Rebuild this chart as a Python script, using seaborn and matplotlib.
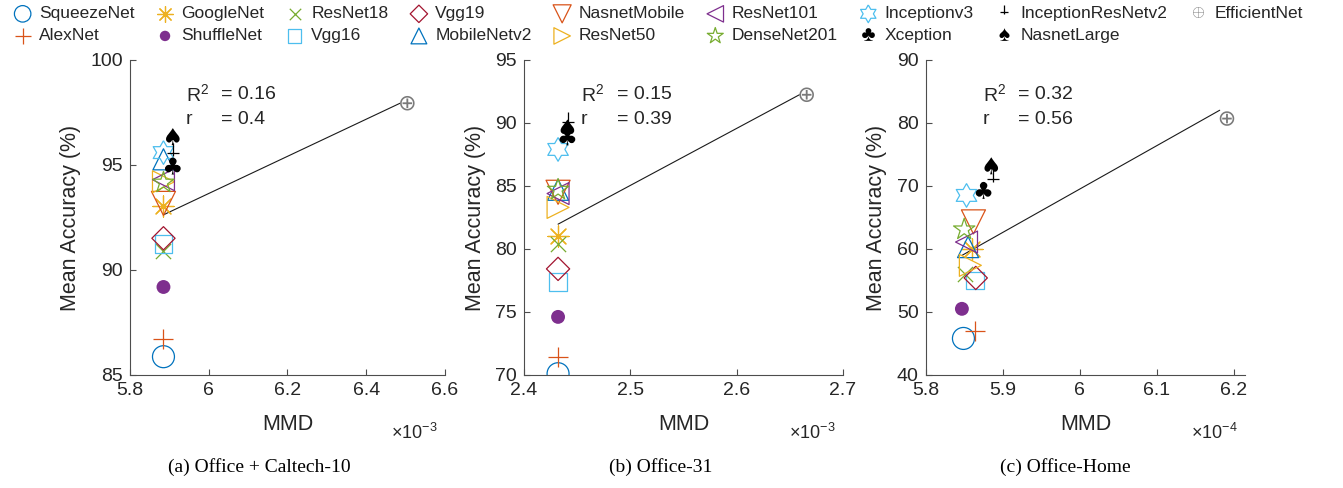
import numpy as np
import pandas as pd
import matplotlib
matplotlib.use('Agg')
import matplotlib.pyplot as plt
from matplotlib.path import Path
from matplotlib.markers import MarkerStyle
from matplotlib.transforms import Affine2D
from matplotlib.lines import Line2D
import seaborn as sns

# values (MMD in units of the axis multiplier)
models = ["SqueezeNet", "AlexNet", "GoogleNet", "ShuffleNet", "ResNet18", "Vgg16",
          "Vgg19", "MobileNetv2", "NasnetMobile", "ResNet50", "ResNet101",
          "DenseNet201", "Inceptionv3", "Xception", "InceptionResNetv2",
          "NasnetLarge", "EfficientNet"]

mmd_caltech = [5.885, 5.885, 5.885, 5.885, 5.885, 5.885, 5.885, 5.885, 5.885,
               5.885, 5.885, 5.885, 5.885, 5.885, 5.885, 5.885, 6.486]
acc_caltech = [85.87, 86.70, 93.07, 89.19, 90.88, 91.24, 91.51, 95.27, 93.17,
               94.20, 94.30, 94.16, 95.59, 94.95, 95.56, 96.35, 97.94]

mmd_office31 = [2.432, 2.432, 2.432, 2.432, 2.432, 2.432, 2.432, 2.432, 2.432,
                2.432, 2.432, 2.432, 2.432, 2.432, 2.432, 2.432, 2.659]
acc_office31 = [70.10, 71.45, 81.05, 74.61, 80.40, 77.37, 78.42, 84.70, 84.50,
                83.30, 84.40, 84.70, 87.90, 88.90, 90.10, 89.60, 92.24]

mmd_home = [5.849, 5.864, 5.860, 5.847, 5.851, 5.864, 5.865, 5.855, 5.862,
            5.858, 5.853, 5.850, 5.853, 5.863, 5.875, 5.873, 6.182]
acc_home = [45.8, 47.0, 60.0, 50.5, 56.0, 55.0, 55.4, 60.3, 64.3,
            57.4, 61.1, 63.1, 68.5, 69.3, 71.1, 73.2, 80.7]

r2_vals = ["0.16", "0.15", "0.32"]
r_vals = ["0.4", "0.39", "0.56"]
captions = ["(a) Office + Caltech-10", "(b) Office-31", "(c) Office-Home"]
exponents = ["-3", "-3", "-4"]

panels = [
    (mmd_caltech, acc_caltech, (5.8, 6.6), [5.8, 6.0, 6.2, 6.4, 6.6], (85, 100), [85, 90, 95, 100]),
    (mmd_office31, acc_office31, (2.4, 2.7), [2.4, 2.5, 2.6, 2.7], (70, 95), [70, 75, 80, 85, 90, 95]),
    (mmd_home, acc_home, (5.8, 6.215), [5.8, 5.9, 6.0, 6.1, 6.2], (40, 90), [40, 50, 60, 70, 80, 90]),
]

# MATLAB default colour order
blue, orange, yellow = '#0072BD', '#D95319', '#EDB120'
purple, green, cyan, red = '#7E2F8E', '#77AC30', '#4DBEEE', '#A2142F'

# custom marker shapes
a_out = np.deg2rad(90 + 60 * np.arange(6))
a_in = a_out + np.deg2rad(30)
hexagram = []
for ao, ai in zip(a_out, a_in):
    hexagram.append((np.cos(ao), np.sin(ao)))
    hexagram.append((np.cos(ai) / np.sqrt(3), np.sin(ai) / np.sqrt(3)))
hexagram.append(hexagram[0])
perp = Path([(0, 1.0), (0, -0.3), (-0.6, 0), (0.6, 0)],
            [Path.MOVETO, Path.LINETO, Path.MOVETO, Path.LINETO])

# the symbol markers sit to the right of their point, like left-aligned text labels
shift = Affine2D().translate(0.55, 0)
club = MarkerStyle(r'$\clubsuit$', transform=shift)
spade = MarkerStyle(r'$\spadesuit$', transform=shift)
oplus = MarkerStyle(r'$\oplus$', transform=Affine2D().translate(0.5, 0))
perp_m = MarkerStyle(perp, transform=Affine2D().translate(0.5, 0))

# marker, colour, size, kind
mstyle = {
    "SqueezeNet": ('o', blue, 250, 'hollow'),
    "AlexNet": ('+', orange, 210, 'line'),
    "GoogleNet": ((8, 2, 0), yellow, 230, 'line'),
    "ShuffleNet": ('o', purple, 100, 'solid'),
    "ResNet18": ('x', green, 120, 'line'),
    "Vgg16": ('s', cyan, 160, 'hollow'),
    "Vgg19": ('D', red, 140, 'hollow'),
    "MobileNetv2": ('^', blue, 230, 'hollow'),
    "NasnetMobile": ('v', orange, 300, 'hollow'),
    "ResNet50": ('>', yellow, 250, 'hollow'),
    "ResNet101": ('<', purple, 250, 'hollow'),
    "DenseNet201": ('*', green, 260, 'hollow'),
    "Inceptionv3": (hexagram, cyan, 290, 'hollow'),
    "Xception": (club, 'k', 150, 'solid'),
    "InceptionResNetv2": (perp_m, 'k', 200, 'hollow'),
    "NasnetLarge": (spade, 'k', 150, 'solid'),
    "EfficientNet": (oplus, '#7a7a7a', 110, 'solid'),
}
# unshifted versions for the legend
legend_plain = {
    "Xception": r'$\clubsuit$',
    "InceptionResNetv2": perp,
    "NasnetLarge": r'$\spadesuit$',
    "EfficientNet": r'$\oplus$',
}

sns.set_style("ticks")
plt.rcParams['font.family'] = ['Liberation Sans', 'DejaVu Sans']
plt.rcParams['mathtext.fontset'] = 'custom'
plt.rcParams['mathtext.rm'] = 'Liberation Sans'
plt.rcParams['text.color'] = '#262626'
plt.rcParams['axes.labelcolor'] = '#262626'
plt.rcParams['xtick.color'] = '#4d4d4d'
plt.rcParams['ytick.color'] = '#4d4d4d'
plt.rcParams['xtick.labelcolor'] = '#262626'
plt.rcParams['ytick.labelcolor'] = '#262626'

fig = plt.figure(figsize=(13.43, 4.88), dpi=100)
rects = [[0.0968, 0.2316, 0.2345, 0.6455],
         [0.3902, 0.2316, 0.2375, 0.6455],
         [0.6893, 0.2316, 0.2378, 0.6455]]
cap_x = [0.193, 0.492, 0.793]

for i, (mmd, acc, xlim, xt, ylim, yt) in enumerate(panels):
    ax = fig.add_axes(rects[i])
    df = pd.DataFrame({'model': models, 'mmd': mmd, 'acc': acc})
    for name in models:
        m, c, s, kind = mstyle[name]
        sub = df[df['model'] == name]
        if kind == 'line':
            sns.scatterplot(data=sub, x='mmd', y='acc', ax=ax, marker=m, color=c,
                            s=s, linewidth=0.9, label=name, zorder=3)
        elif kind == 'hollow':
            sns.scatterplot(data=sub, x='mmd', y='acc', ax=ax, marker=m, color=c,
                            facecolor='none', edgecolor=c, s=s, linewidth=0.9,
                            label=name, zorder=3)
        else:
            sns.scatterplot(data=sub, x='mmd', y='acc', ax=ax, marker=m, color=c,
                            edgecolor='none', s=s, linewidth=0, label=name, zorder=3)
    sns.regplot(data=df, x='mmd', y='acc', ax=ax, scatter=False, ci=None, truncate=True,
                color='#1a1a1a', line_kws=dict(lw=0.8, zorder=2))

    ax.set_xlim(xlim)
    ax.set_ylim(ylim)
    ax.set_xticks(xt)
    ax.set_xticklabels([f"{v:g}" for v in xt])
    ax.set_yticks(yt)
    ax.tick_params(direction='in', length=4, width=0.8, labelsize=14, pad=5)
    for sp in ['left', 'bottom']:
        ax.spines[sp].set_color('#4d4d4d')
        ax.spines[sp].set_linewidth(0.8)
    sns.despine(ax=ax)
    ax.set_xlabel('MMD', fontsize=15.5, labelpad=11)
    ax.set_ylabel('Mean Accuracy (%)', fontsize=15.5, labelpad=7)
    if ax.get_legend() is not None:
        ax.get_legend().remove()

    ax.text(0.83, -0.185, r'$\times$10$^{' + exponents[i] + '}$', transform=ax.transAxes,
            fontsize=13, ha='left', va='center')
    ax.text(0.178, 0.889, r'R$^2$', transform=ax.transAxes, fontsize=14, va='center')
    ax.text(0.29, 0.889, '= ' + r2_vals[i], transform=ax.transAxes, fontsize=14, va='center')
    ax.text(0.178, 0.81, 'r', transform=ax.transAxes, fontsize=14, va='center')
    ax.text(0.29, 0.81, '= ' + r_vals[i], transform=ax.transAxes, fontsize=14, va='center')

    fig.text(cap_x[i], 0.043, captions[i], ha='center', va='center', fontsize=14,
             family=['Liberation Serif', 'DejaVu Serif'], color='black')

    if i == 0:
        handles, labels = ax.get_legend_handles_labels()

# legend entries for the shifted symbols use centred copies
for k, lab in enumerate(labels):
    if lab in legend_plain:
        m, c, s, kind = mstyle[lab]
        if kind == 'hollow':
            handles[k] = Line2D([], [], ls='none', marker=legend_plain[lab], markersize=np.sqrt(s),
                                markerfacecolor='none', markeredgecolor=c, markeredgewidth=0.9)
        else:
            handles[k] = Line2D([], [], ls='none', marker=legend_plain[lab], markersize=np.sqrt(s),
                                markerfacecolor=c, markeredgecolor='none', markeredgewidth=0)

fig.legend(handles, labels, loc='upper left', bbox_to_anchor=(0.002, 1.005), ncol=9,
           frameon=False, fontsize=12.5, markerscale=0.75, handletextpad=0.3,
           columnspacing=1.1, labelspacing=0.4, borderaxespad=0.1, handlelength=1.3)

fig.savefig('out.png', dpi=100, facecolor='white')
